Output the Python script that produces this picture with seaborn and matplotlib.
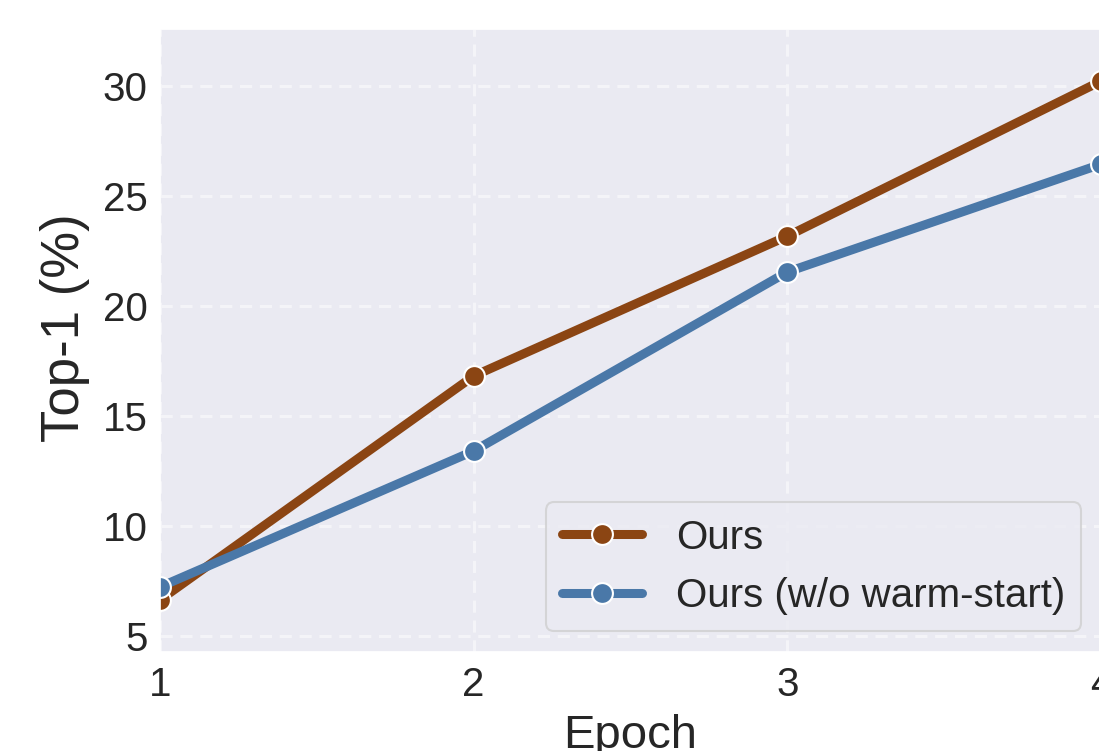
import pandas as pd
import seaborn as sns
import matplotlib.pyplot as plt

epochs = [1, 2, 3, 4]
ours = [6.64, 16.82, 23.18, 30.23]
ours_no_warm = [7.23, 13.41, 21.55, 26.45]
labels = ["Ours", "Ours (w/o warm-start)"]
colors = ["#8B4513", "#4A78A8"]

def main():
    sns.set_theme(style="darkgrid", rc={"grid.linestyle": (0, (4, 2.5)), "grid.linewidth": 2.2,
                                        "grid.color": "#f4f4f8"})
    plt.rcParams['font.family'] = ['Liberation Sans', 'DejaVu Sans']

    df = pd.DataFrame({
        "Epoch": epochs * 2,
        "Top-1": ours + ours_no_warm,
        "Method": [labels[0]] * 4 + [labels[1]] * 4,
    })

    fig = plt.figure(figsize=(10.99, 7.51), dpi=100)
    ax = fig.add_axes([160 / 1099, 1 - 652 / 751, 941 / 1099, 623 / 751])

    sns.lineplot(data=df, x="Epoch", y="Top-1", hue="Method", palette=colors,
                 marker="o", markersize=15, linewidth=6.5, markeredgecolor="white",
                 markeredgewidth=1.5, ax=ax)

    ax.set_xlim(1, 4)
    ax.set_ylim(4.27, 32.6)
    ax.set_xticks(epochs)
    ax.set_yticks([5, 10, 15, 20, 25, 30])
    ax.tick_params(axis="y", labelsize=29, pad=3)
    ax.tick_params(axis="x", labelsize=29, pad=4)
    ax.set_xlabel("Epoch", fontsize=34, labelpad=7)
    ax.set_ylabel("Top-1 (%)", fontsize=38)
    ax.yaxis.set_label_coords(-0.074, 0.521)

    leg = ax.legend(loc="lower right", fontsize=29, frameon=True,
                    bbox_to_anchor=(0.979, 0.034), borderaxespad=0, handlelength=2.0,
                    labelspacing=0.5, borderpad=0.4, handletextpad=0.83)
    leg.get_frame().set_edgecolor("#cfcfcf")
    leg.get_frame().set_linewidth(1.5)

    fig.savefig("out.png", dpi=100)

if __name__ == '__main__':
    main()
